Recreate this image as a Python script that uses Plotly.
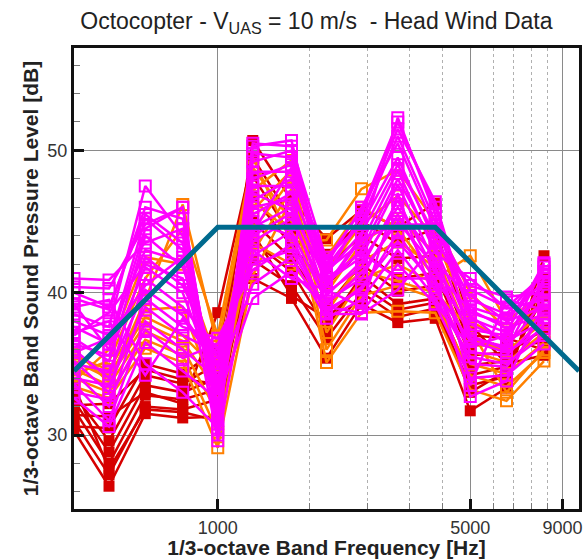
import plotly.graph_objects as go

# 1/3-octave band centre frequencies [Hz]
bands = [400, 500, 630, 800, 1000, 1250, 1600, 2000, 2500, 3150, 4000, 5000, 6300, 8000]

# Band levels [dB], one list per run
red_runs = [
    [30.3, 26.4, 31.5, 31.2, 31.3, 41.0, 39.6, 35.4, 39.2, 37.9, 38.2, 31.7, 33.3, 42.6],
    [31.0, 27.2, 32.0, 31.8, 32.5, 42.3, 40.5, 36.8, 40.0, 38.3, 38.9, 33.5, 34.1, 41.0],
    [31.8, 28.0, 32.8, 32.5, 33.2, 43.6, 41.5, 37.5, 41.2, 39.2, 39.6, 34.2, 34.8, 39.8],
    [32.4, 28.8, 33.5, 33.0, 34.0, 45.0, 42.4, 39.0, 42.0, 40.1, 40.5, 34.9, 35.2, 38.5],
    [32.8, 29.6, 34.2, 33.6, 35.0, 46.8, 43.3, 40.5, 43.0, 41.0, 41.4, 35.6, 35.8, 37.4],
    [30.6, 30.5, 35.0, 34.3, 36.0, 48.2, 44.0, 41.8, 44.0, 42.4, 42.6, 36.3, 36.3, 36.5],
    [31.4, 31.3, 33.0, 32.2, 38.6, 49.5, 45.2, 42.7, 45.0, 43.5, 44.5, 37.0, 36.8, 36.0],
    [32.1, 32.2, 34.6, 33.9, 33.6, 50.7, 46.5, 43.8, 45.8, 44.6, 46.3, 37.8, 35.0, 35.6],
    [33.5, 27.6, 31.8, 31.6, 31.0, 44.2, 39.8, 38.2, 40.5, 38.8, 39.3, 33.0, 34.5, 40.2],
]

orange_runs = [
    [33.4, 32.6, 36.1, 35.1, 29.1, 41.2, 46.6, 35.1, 38.6, 38.7, 38.6, 33.2, 32.4, 35.2],
    [34.0, 33.0, 36.7, 35.6, 30.2, 42.8, 47.3, 36.0, 39.8, 40.5, 39.6, 34.2, 33.4, 35.8],
    [34.6, 33.5, 37.3, 36.1, 31.5, 44.4, 48.0, 37.2, 41.0, 42.0, 40.6, 35.0, 34.3, 36.5],
    [35.2, 34.0, 37.8, 36.6, 33.0, 45.8, 48.6, 38.6, 42.2, 43.6, 41.8, 35.9, 35.1, 37.2],
    [35.7, 34.2, 38.3, 37.0, 34.5, 47.2, 49.3, 40.0, 43.5, 45.2, 42.8, 36.8, 35.9, 37.9],
    [36.0, 33.7, 39.5, 46.2, 36.2, 48.8, 45.0, 41.5, 44.8, 46.8, 43.9, 38.0, 36.6, 38.6],
    [34.3, 35.2, 41.0, 44.5, 37.0, 49.5, 43.5, 43.7, 47.3, 48.6, 45.0, 40.0, 37.4, 39.3],
    [33.8, 36.0, 42.5, 42.0, 35.0, 46.5, 44.2, 42.5, 46.0, 44.5, 41.0, 42.6, 38.0, 40.0],
    [35.5, 34.6, 38.8, 39.0, 32.3, 43.5, 42.0, 39.2, 41.5, 40.8, 40.0, 37.5, 33.0, 36.0],
]

magenta_runs = [
    [41.0, 40.9, 43.5, 44.5, 30.0, 50.3, 50.7, 40.5, 44.0, 52.3, 45.5, 37.0, 36.0, 41.0],
    [40.4, 40.3, 44.8, 46.0, 31.0, 49.2, 50.0, 41.2, 45.5, 51.5, 46.4, 38.2, 37.2, 42.1],
    [39.6, 38.8, 46.0, 45.2, 32.0, 48.0, 49.0, 42.0, 46.0, 50.5, 44.5, 39.5, 38.5, 41.5],
    [38.5, 37.6, 47.5, 44.0, 33.0, 46.5, 48.0, 42.5, 44.8, 49.5, 43.5, 40.5, 39.7, 40.0],
    [37.6, 36.4, 45.2, 43.0, 33.8, 45.5, 47.0, 41.6, 43.5, 48.6, 42.8, 41.0, 38.9, 39.5],
    [36.8, 35.2, 44.0, 41.8, 34.6, 44.6, 46.0, 40.8, 42.5, 47.6, 42.0, 39.8, 38.0, 39.0],
    [36.0, 34.0, 42.5, 40.5, 35.4, 43.6, 45.2, 40.0, 41.8, 46.5, 41.4, 38.8, 37.5, 38.5],
    [35.2, 33.0, 41.0, 39.0, 36.0, 42.6, 44.3, 39.4, 41.0, 45.5, 40.8, 37.8, 36.6, 38.0],
    [34.4, 32.0, 39.6, 37.6, 36.8, 41.6, 43.4, 38.8, 40.2, 44.2, 40.2, 36.6, 35.8, 37.5],
    [33.6, 31.0, 38.0, 36.0, 34.0, 40.6, 42.5, 38.2, 39.5, 43.0, 39.6, 35.5, 35.0, 37.0],
    [32.6, 30.6, 36.5, 34.5, 32.5, 39.6, 41.5, 39.0, 38.6, 42.0, 39.2, 34.0, 34.2, 36.4],
    [39.0, 39.5, 35.0, 33.0, 30.5, 47.0, 45.8, 41.0, 42.8, 41.0, 41.0, 32.7, 33.8, 39.2],
    [37.2, 38.0, 34.2, 38.2, 34.8, 45.0, 44.0, 38.5, 38.5, 40.2, 43.5, 33.5, 39.5, 38.8],
    [35.8, 36.8, 40.5, 42.5, 29.6, 43.0, 41.0, 40.2, 39.0, 47.0, 39.2, 36.2, 37.0, 40.6],
    [40.0, 39.0, 45.5, 43.5, 31.5, 49.8, 49.5, 41.8, 45.0, 51.0, 45.0, 38.6, 37.8, 41.8],
    [38.0, 37.0, 43.0, 42.2, 32.8, 48.5, 48.5, 41.4, 44.2, 49.0, 44.0, 39.0, 38.2, 40.8],
    [36.4, 35.6, 41.8, 40.0, 33.5, 47.5, 47.5, 40.6, 43.0, 48.0, 43.2, 37.4, 37.0, 40.2],
    [35.0, 34.5, 40.2, 38.4, 35.0, 46.0, 46.6, 39.8, 42.2, 46.0, 42.4, 36.8, 36.2, 39.4],
    [34.0, 33.5, 39.0, 37.0, 35.8, 44.0, 45.6, 39.2, 41.4, 45.0, 41.8, 35.8, 35.6, 38.2],
    [33.0, 32.5, 37.4, 35.4, 36.4, 42.0, 43.0, 38.6, 40.4, 43.6, 40.6, 35.0, 34.8, 37.8],
    [39.2, 36.0, 44.5, 46.0, 30.8, 50.5, 50.3, 42.3, 45.8, 52.0, 46.0, 38.4, 36.4, 42.0],
    [37.0, 38.6, 42.0, 41.0, 33.3, 44.2, 48.8, 40.4, 43.8, 44.8, 44.8, 40.2, 39.0, 41.2],
]

# Reference spectrum envelope
envelope_freq = [400, 1000, 4000, 10000]
envelope_level = [34.5, 44.6, 44.6, 34.5]

# Axis ticks
x_major = [1000, 5000, 9000]
x_minor = [1800, 2600, 3400, 4200, 5800, 6600, 7400, 8200]
y_major = [30, 40, 50]

RED = "#D60000"
ORANGE = "#FF8000"
MAGENTA = "#FF00FF"
TEAL = "#006A8E"


def add_runs(runs, color, symbol):
    for run in runs:
        marker = dict(symbol=symbol, size=11, color=color)
        if symbol.endswith("open"):
            marker["line"] = dict(width=2)
        fig.add_trace(go.Scatter(
            x=bands, y=run, mode="lines+markers",
            line=dict(color=color, width=2.5),
            marker=marker,
            showlegend=False, hoverinfo="skip"))


fig = go.Figure()
add_runs(red_runs, RED, "square")
add_runs(orange_runs, ORANGE, "square-open")
add_runs(magenta_runs, MAGENTA, "square-open")

fig.add_trace(go.Scatter(
    x=envelope_freq, y=envelope_level, mode="lines",
    line=dict(color=TEAL, width=5),
    showlegend=False, hoverinfo="skip"))

font_family = "Liberation Sans, Arial, sans-serif"

fig.update_layout(
    width=587, height=559,
    margin=dict(l=74, r=5, t=48, b=47),
    paper_bgcolor="white", plot_bgcolor="white",
    font=dict(family=font_family, color="#222222"),
    title=dict(
        text="Octocopter - V<sub>UAS</sub> = 10 m/s  - Head Wind Data",
        xref="container", x=0.539, xanchor="center",
        yref="container", y=0.962, yanchor="middle",
        font=dict(size=23, family=font_family, color="#222222")),
)

fig.update_xaxes(
    type="log", range=[2.60206, 4.0],
    tickmode="array", tickvals=x_major, ticktext=[str(v) for v in x_major],
    ticks="inside", ticklen=10, tickwidth=3, tickcolor="#111111",
    tickfont=dict(size=18, color="#333333"),
    showgrid=True, gridcolor="#8a8a8a", gridwidth=1,
    minor=dict(tickmode="array", tickvals=x_minor, ticks="inside", ticklen=6,
               tickcolor="#777777", tickwidth=1,
               showgrid=True, gridcolor="#b0b0b0", griddash="dot", gridwidth=1),
    showline=True, linecolor="#111111", linewidth=3, mirror=True,
    zeroline=False,
    title=dict(text="<b>1/3-octave Band Frequency [Hz]</b>",
               font=dict(size=21, color="#222222"), standoff=2),
)

fig.update_yaxes(
    range=[24.8, 57.2],
    tickmode="array", tickvals=y_major,
    ticks="inside", ticklen=10, tickwidth=3, tickcolor="#111111",
    tickfont=dict(size=18, color="#333333"),
    showgrid=True, gridcolor="#8a8a8a", gridwidth=1,
    minor=dict(dtick=2, tick0=0, ticks="inside", ticklen=6,
               tickcolor="#777777", tickwidth=1, showgrid=False),
    showline=True, linecolor="#111111", linewidth=3, mirror=True,
    zeroline=False,
    title=dict(text="<b>1/3-octave Band Sound Pressure Level [dB]</b>",
               font=dict(size=21, color="#222222"), standoff=4),
)

fig.write_html("out.html")
